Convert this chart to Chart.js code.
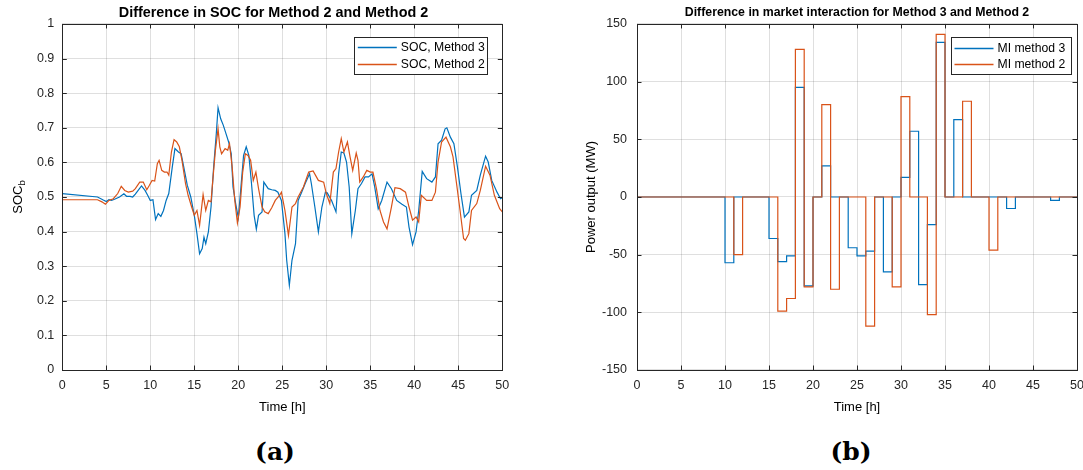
<!DOCTYPE html>
<html>
<head>
<meta charset="utf-8">
<script src="https://cdn.jsdelivr.net/npm/chart.js@4/dist/chart.umd.min.js"></script>
<style>
  html, body { margin: 0; padding: 0; background: #fff; width: 1083px; height: 470px; overflow: hidden; }
  .panel { position: absolute; top: 0; }
  #socPanel { left: 0; }
  #miPanel { left: 560px; }
  .cap { position: absolute; top: 437px; font: bold 25px "DejaVu Serif", "Liberation Serif", serif; color: #000; transform: translateX(-50%); }
</style>
</head>
<body>
<div class="panel" id="socPanel"><canvas id="socChart" width="547" height="420"></canvas></div>
<div class="panel" id="miPanel"><canvas id="miChart" width="523" height="420"></canvas></div>
<div class="cap" style="left:275px">(a)</div>
<div class="cap" style="left:851px">(b)</div>
<script>
// ---- State of charge, hours 0-50 ----
const socTime3 = [0,4,4.6,5,5.3,5.6,6,6.5,7,7.3,7.7,8,8.3,9,9.4,9.7,10,10.3,10.6,10.9,11.2,11.5,11.8,12.1,12.5,12.8,13.2,13.5,13.8,14.2,14.6,15,15.3,15.6,15.9,16.1,16.3,16.6,16.9,17.2,17.5,17.7,18,18.3,18.6,18.9,19.2,19.4,19.7,20,20.3,20.6,20.9,21.2,21.5,21.8,22.05,22.3,22.7,22.9,23.4,23.8,24.2,24.5,24.9,25.3,25.5,25.8,26.1,26.5,26.8,27.2,27.6,28.1,28.3,28.7,29.1,29.5,29.9,30.1,30.6,31.1,31.4,31.7,32,32.3,32.6,32.9,33.3,33.6,34,34.4,34.8,35.2,35.5,35.9,36.3,36.9,37.4,38,38.6,39.1,39.4,39.8,40.2,40.5,40.9,41.4,42,42.4,42.7,43.1,43.5,43.7,44.1,44.5,44.9,45.3,45.7,46.2,46.5,47.1,47.5,48.1,48.4,48.8,49.4,49.8,50];
const socMethod3 = [0.510,0.500,0.492,0.487,0.492,0.490,0.494,0.500,0.509,0.502,0.502,0.500,0.508,0.532,0.519,0.505,0.490,0.492,0.435,0.452,0.444,0.461,0.490,0.510,0.587,0.640,0.630,0.625,0.587,0.534,0.500,0.447,0.394,0.336,0.351,0.384,0.365,0.399,0.471,0.587,0.683,0.758,0.726,0.707,0.683,0.659,0.625,0.529,0.481,0.440,0.529,0.620,0.645,0.620,0.539,0.447,0.407,0.447,0.457,0.543,0.524,0.521,0.519,0.514,0.490,0.394,0.317,0.245,0.317,0.365,0.490,0.514,0.539,0.567,0.539,0.471,0.399,0.471,0.514,0.512,0.490,0.457,0.567,0.630,0.627,0.601,0.529,0.394,0.461,0.524,0.539,0.558,0.558,0.567,0.529,0.466,0.490,0.543,0.524,0.490,0.479,0.471,0.413,0.362,0.399,0.461,0.574,0.553,0.543,0.558,0.654,0.664,0.697,0.700,0.673,0.654,0.587,0.510,0.442,0.457,0.505,0.519,0.563,0.618,0.601,0.548,0.514,0.495,0.498];
const socTime2 = [0,4,4.5,4.9,5.3,5.8,6.3,6.7,7.1,7.5,8,8.3,8.8,9.2,9.6,9.9,10.2,10.5,10.8,11,11.3,11.6,11.9,12.1,12.4,12.7,13,13.3,13.6,14,14.3,14.7,15,15.3,15.6,16,16.3,16.6,16.9,17.1,17.4,17.7,17.9,18.1,18.5,18.8,19,19.3,19.6,19.9,20.2,20.5,20.8,21.1,21.4,21.7,22,22.3,22.7,23,23.4,23.8,24.2,24.7,24.9,25.3,25.7,26.1,26.5,26.8,27.4,28,28.5,29.1,29.7,30,30.4,30.8,31.1,31.4,31.7,32,32.4,32.7,33,33.4,33.6,33.8,34.2,34.6,35,35.3,35.7,36.1,36.5,36.9,37.4,37.8,38.4,39,39.4,39.8,40.2,40.5,40.8,41.4,42,42.4,42.7,43.1,43.6,44.1,44.4,44.8,45.2,45.6,45.8,46.2,46.5,47.1,47.5,48.1,48.6,49.1,49.7,50];
const socMethod2 = [0.492,0.492,0.486,0.479,0.490,0.495,0.510,0.531,0.519,0.514,0.517,0.524,0.543,0.543,0.521,0.534,0.548,0.546,0.596,0.606,0.577,0.572,0.572,0.563,0.630,0.666,0.659,0.645,0.606,0.539,0.505,0.471,0.447,0.461,0.418,0.507,0.461,0.490,0.486,0.548,0.635,0.697,0.645,0.625,0.640,0.635,0.654,0.587,0.490,0.425,0.471,0.572,0.625,0.620,0.606,0.548,0.572,0.524,0.471,0.457,0.452,0.469,0.490,0.505,0.514,0.461,0.389,0.471,0.481,0.500,0.529,0.572,0.575,0.548,0.543,0.510,0.481,0.572,0.582,0.630,0.669,0.630,0.659,0.616,0.577,0.627,0.606,0.543,0.558,0.577,0.572,0.572,0.524,0.461,0.428,0.408,0.471,0.527,0.524,0.514,0.471,0.433,0.442,0.428,0.505,0.490,0.490,0.514,0.601,0.659,0.673,0.645,0.616,0.539,0.461,0.380,0.375,0.394,0.461,0.481,0.519,0.589,0.563,0.505,0.466,0.457];

// ---- Hourly market interaction (MW), value held from hour h to h+1 ----
const miHours = [0,1,2,3,4,5,6,7,8,9,10,11,12,13,14,15,16,17,18,19,20,21,22,23,24,25,26,27,28,29,30,31,32,33,34,35,36,37,38,39,40,41,42,43,44,45,46,47,48,49,50];
const miMethod3 = [0,0,0,0,0,0,0,0,0,0,-57,0,0,0,0,-36,-56,-51,95,-77,0,27,0,0,-44,-51,-47,0,-65,0,17,57,-76,-24,134,0,67,0,0,0,0,0,-10,0,0,0,0,-3,0,0,0];
const miMethod2 = [0,0,0,0,0,0,0,0,0,0,0,-50,0,0,0,0,-99,-88,128,-78,0,80,-80,0,0,0,-112,0,0,-78,87,0,0,-102,141,0,0,83,0,0,-46,0,0,0,0,0,0,0,0,0,0];

const timeTicks = [0,5,10,15,20,25,30,35,40,45,50];

const BLUE = '#0072BD';
const ORANGE = '#D95319';
const AXIS = '#262626';
const GRID = 'rgba(38,38,38,0.15)';
const FONT = '"Liberation Sans", Arial, Helvetica, sans-serif';

Chart.defaults.font.family = FONT;
Chart.defaults.font.size = 12.5;
Chart.defaults.color = AXIS;

const pairs = (xs, ys) => xs.map((x, i) => ({ x, y: ys[i] }));

// Box around the axes with inward tick marks on all four sides
const boxTicks = {
  id: 'boxTicks',
  afterDatasetsDraw(chart) {
    const { ctx, chartArea: a, scales: { x, y } } = chart;
    const len = 4.5;
    ctx.save();
    ctx.strokeStyle = AXIS;
    ctx.lineWidth = 1;
    ctx.beginPath();
    x.ticks.forEach(t => {
      const p = Math.round(x.getPixelForValue(t.value)) + 0.5;
      ctx.moveTo(p, a.bottom); ctx.lineTo(p, a.bottom - len);
      ctx.moveTo(p, a.top); ctx.lineTo(p, a.top + len);
    });
    y.ticks.forEach(t => {
      const p = Math.round(y.getPixelForValue(t.value)) + 0.5;
      ctx.moveTo(a.left, p); ctx.lineTo(a.left + len, p);
      ctx.moveTo(a.right, p); ctx.lineTo(a.right - len, p);
    });
    ctx.stroke();
    ctx.strokeRect(Math.round(a.left) + 0.5, Math.round(a.top) + 0.5,
                   Math.round(a.right) - Math.round(a.left), Math.round(a.bottom) - Math.round(a.top));
    ctx.restore();
  }
};

// Boxed legend in the upper right corner of the axes
const cornerLegend = {
  id: 'cornerLegend',
  afterDraw(chart, args, opts) {
    const { ctx, chartArea: a } = chart;
    const w = opts.width, h = 37;
    const left = a.right - opts.right - w;
    const top = a.top + opts.top;
    ctx.save();
    ctx.fillStyle = '#fff';
    ctx.fillRect(left, top, w, h);
    ctx.strokeStyle = AXIS;
    ctx.lineWidth = 1;
    ctx.strokeRect(Math.round(left) + 0.5, Math.round(top) + 0.5, w, h);
    ctx.font = '12.2px ' + FONT;
    ctx.textBaseline = 'middle';
    ctx.fillStyle = '#000';
    chart.data.datasets.forEach((ds, i) => {
      const yy = Math.round(top + 10.5 + i * 16.5) + 0.5;
      ctx.strokeStyle = ds.borderColor;
      ctx.lineWidth = 1.3;
      ctx.beginPath();
      ctx.moveTo(left + 4, yy);
      ctx.lineTo(left + 43, yy);
      ctx.stroke();
      ctx.fillText(ds.label, left + 47, yy);
    });
    ctx.restore();
  }
};

// Y-axis label with a subscript
const subscriptYLabel = {
  id: 'subscriptYLabel',
  afterDraw(chart, args, opts) {
    const { ctx, chartArea: a } = chart;
    ctx.save();
    ctx.translate(opts.x, (a.top + a.bottom) / 2);
    ctx.rotate(-Math.PI / 2);
    ctx.fillStyle = '#000';
    ctx.textBaseline = 'middle';
    ctx.font = '13px ' + FONT;
    const wMain = ctx.measureText(opts.main).width;
    ctx.font = '9.5px ' + FONT;
    const wSub = ctx.measureText(opts.sub).width;
    const x0 = -(wMain + wSub) / 2;
    ctx.font = '13px ' + FONT;
    ctx.fillText(opts.main, x0, 0);
    ctx.font = '9.5px ' + FONT;
    ctx.fillText(opts.sub, x0 + wMain, 4);
    ctx.restore();
  }
};

function timeAxis(height, padRight) {
  return {
    type: 'linear', min: 0, max: 50,
    afterBuildTicks: s => { s.ticks = timeTicks.map(v => ({ value: v })); },
    afterFit: s => { s.height = height; s.paddingLeft = 0; s.paddingRight = padRight; },
    grid: { color: GRID, drawTicks: false, lineWidth: 1 },
    border: { display: false },
    ticks: { padding: 8, color: AXIS, maxRotation: 0, autoSkip: false },
    title: { display: true, text: 'Time [h]', color: '#000', font: { size: 13 }, padding: { top: 0, bottom: 4.5 } }
  };
}

const lineStyle = { pointRadius: 0, borderWidth: 1.2, tension: 0, fill: false };

new Chart(document.getElementById('socChart'), {
  type: 'line',
  data: {
    datasets: [
      { label: 'SOC, Method 3', data: pairs(socTime3, socMethod3), borderColor: BLUE, order: 1, ...lineStyle },
      { label: 'SOC, Method 2', data: pairs(socTime2, socMethod2), borderColor: ORANGE, order: 0, ...lineStyle }
    ]
  },
  options: {
    responsive: false, animation: false, devicePixelRatio: 1,
    layout: { padding: 0 },
    scales: {
      x: timeAxis(50, 44.7),
      y: {
        type: 'linear', min: 0, max: 1,
        ticks: { stepSize: 0.1, padding: 8, color: AXIS, callback: v => String(+v.toFixed(1)) },
        afterFit: s => { s.width = 62.3; },
        grid: { color: GRID, drawTicks: false },
        border: { display: false }
      }
    },
    plugins: {
      legend: { display: false },
      tooltip: { enabled: false },
      title: { display: true, text: 'Difference in SOC for Method 2 and Method 2', color: '#000',
               font: { size: 14.4, weight: 'bold' }, padding: { top: 4, bottom: 2.7 } },
      cornerLegend: { width: 133, right: 15.5, top: 13 },
      subscriptYLabel: { x: 18, main: 'SOC', sub: 'b' }
    }
  },
  plugins: [boxTicks, cornerLegend, subscriptYLabel]
});

new Chart(document.getElementById('miChart'), {
  type: 'line',
  data: {
    datasets: [
      { label: 'MI method 3', data: pairs(miHours, miMethod3), borderColor: BLUE, stepped: 'before', order: 1, ...lineStyle },
      { label: 'MI method 2', data: pairs(miHours, miMethod2), borderColor: ORANGE, stepped: 'before', order: 0, ...lineStyle }
    ]
  },
  options: {
    responsive: false, animation: false, devicePixelRatio: 1,
    layout: { padding: 0 },
    scales: {
      x: timeAxis(50, 6),
      y: {
        type: 'linear', min: -150, max: 150,
        ticks: { stepSize: 50, padding: 10, color: AXIS },
        afterFit: s => { s.width = 77; },
        grid: { color: GRID, drawTicks: false },
        border: { display: false },
        title: { display: true, text: 'Power output (MW)', color: '#000', font: { size: 13 }, padding: { top: 23.5, bottom: 0 } }
      }
    },
    plugins: {
      legend: { display: false },
      tooltip: { enabled: false },
      title: { display: true, fullSize: false, text: 'Difference in market interaction for Method 3 and Method 2', color: '#000',
               font: { size: 12.3, weight: 'bold' }, padding: { top: 5, bottom: 4.2 } },
      cornerLegend: { width: 120, right: 6.5, top: 13.3 }
    }
  },
  plugins: [boxTicks, cornerLegend]
});
</script>
</body>
</html>
